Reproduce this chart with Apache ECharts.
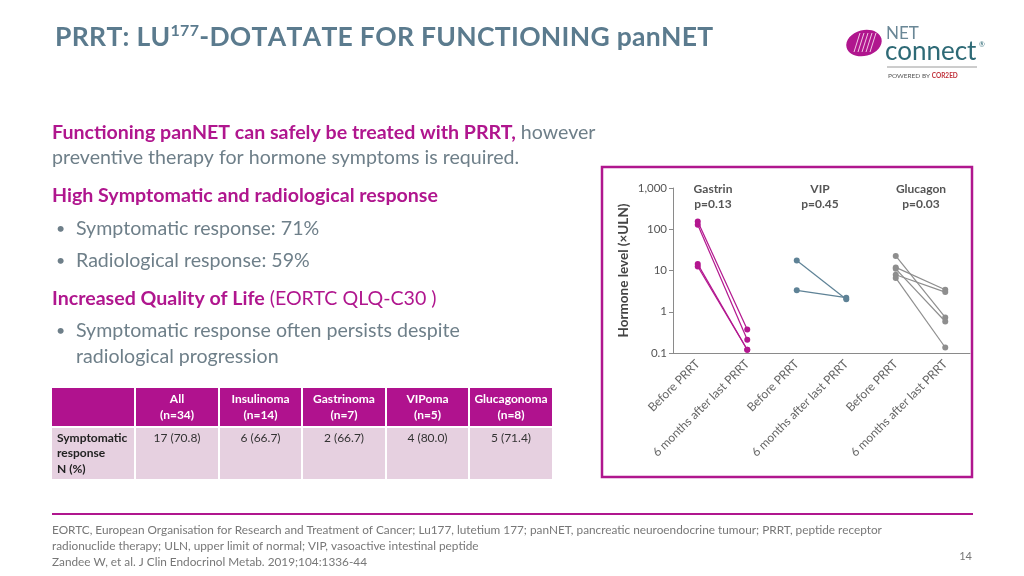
<!DOCTYPE html>
<html><head><meta charset="utf-8">
<script src="https://cdn.jsdelivr.net/npm/echarts@6/dist/echarts.min.js"></script>
<style>html,body{margin:0;padding:0;background:#fff}#c{width:1024px;height:576px}</style>
</head><body><div id="c"></div>
<script>
// ---- data ----
const categories = ['Before PRRT','6 months after last PRRT','Before PRRT','6 months after last PRRT','Before PRRT','6 months after last PRRT'];
const groupNames = ['Gastrin','VIP','Glucagon'];
const pValues = ['p=0.13','p=0.45','p=0.03'];
const gastrinBefore = [155, 128, 14.3, 12.5];
const gastrinAfter  = [0.37, 0.21, 0.12, 0.12];
const vipBefore = [17.5, 3.3];
const vipAfter  = [2.0, 2.2];
const glucagonBefore = [22.5, 11.9, 11.0, 7.9, 6.6];
const glucagonAfter  = [0.73, 3.4, 0.58, 3.0, 0.136];
const yTicks = [0.1, 1, 10, 100, 1000];
const tableHeader = ['', 'All\n(n=34)', 'Insulinoma\n(n=14)', 'Gastrinoma\n(n=7)', 'VIPoma\n(n=5)', 'Glucagonoma\n(n=8)'];
const tableRow = ['Symptomatic\nresponse\nN (%)', '17 (70.8)', '6 (66.7)', '2 (66.7)', '4 (80.0)', '5 (71.4)'];

// ---- styles ----
const MAG = '#b0168e', GREY = '#6e7f89', TITLE = '#5b7b8e';
const groupColors = ['#b3178f', '#5e8296', '#8e8e8e'];
const FONT = 'Lato';

const groups = [[gastrinBefore, gastrinAfter], [vipBefore, vipAfter], [glucagonBefore, glucagonAfter]];
const series = [];
groups.forEach((g, gi) => {
  g[0].forEach((b, i) => {
    const d = categories.map(() => '-');
    d[gi * 2] = b; d[gi * 2 + 1] = g[1][i];
    series.push({
      type: 'line', data: d, symbol: 'circle', symbolSize: 6, silent: true,
      lineStyle: { color: groupColors[gi], width: 1.2 },
      itemStyle: { color: groupColors[gi] }
    });
  });
});

const graphics = [];
function txt(x, y, text, font, fill, align, extra) {
  graphics.push({ type: 'text', x: x, y: y, silent: true,
    style: Object.assign({ text: text, font: font, fill: fill, align: align || 'left', verticalAlign: 'middle' }, extra || {}) });
}
// title with letter spacing (characters placed one by one)
const ctx = document.createElement('canvas').getContext('2d');
const titleParts = [
  { t: 'PRRT: LU', font: 'bold 26.5px ' + FONT, y: 37, va: 'middle' },
  { t: '177', font: 'bold 16px ' + FONT, y: 23, va: 'top' },
  { t: '-DOTATATE FOR FUNCTIONING panNET', font: 'bold 26.5px ' + FONT, y: 37, va: 'middle' }
];
let tx = 55;
const SP = 0.3;
titleParts.forEach(p => {
  ctx.font = p.font;
  for (const ch of p.t) {
    graphics.push({ type: 'text', x: tx, y: p.y, silent: true, style: { text: ch, font: p.font, fill: TITLE, verticalAlign: p.va } });
    tx += ctx.measureText(ch).width + SP;
  }
});
// logo
graphics.push({ type: 'ellipse', shape: { cx: 864, cy: 43, rx: 18, ry: 13 }, rotation: 0.25, originX: 864, originY: 43, style: { fill: '#b0168e' } });
for (let i = 0; i < 5; i++) {
  graphics.push({ type: 'line', shape: { x1: 854 + i * 4, y1: 52, x2: 860 + i * 4, y2: 33 }, style: { stroke: '#f0c8e4', lineWidth: 1 } });
}
txt(886, 34, 'NET', '17px ' + FONT, '#6a8796');
txt(885, 52, 'connect', '26px ' + FONT, '#2e6a76');
txt(979, 45, '®', '7px ' + FONT, '#2e6a76');
graphics.push({ type: 'line', shape: { x1: 887, y1: 67, x2: 977, y2: 67 }, style: { stroke: '#9a9a9a', lineWidth: 1 } });
graphics.push({ type: 'text', x: 888, y: 76, style: { text: '{a|POWERED BY }{b|COR2ED}', verticalAlign: 'middle',
  rich: { a: { font: '6.5px ' + FONT, fill: '#555' }, b: { font: 'bold 6.5px ' + FONT, fill: '#c0303a' } } } });

// left text
const BODY = 19.6;
function rich(x, y, text, parts) {
  graphics.push({ type: 'text', x: x, y: y, style: { text: text, verticalAlign: 'middle', rich: parts } });
}
const bm = { font: 'bold ' + BODY + 'px ' + FONT, fill: MAG };
const rg = { font: BODY + 'px ' + FONT, fill: GREY };
const rm = { font: BODY + 'px ' + FONT, fill: MAG };
rich(52, 133, '{b|Functioning panNET can safely be treated with PRRT,}{r| however}', { b: bm, r: rg });
txt(52, 158, 'preventive therapy for hormone symptoms is required.', BODY + 'px ' + FONT, GREY);
txt(52, 196, 'High Symptomatic and radiological response', 'bold ' + BODY + 'px ' + FONT, MAG);
txt(56, 229, '•', '16px ' + FONT, GREY);
txt(76, 229, 'Symptomatic response: 71%', BODY + 'px ' + FONT, GREY);
txt(56, 261, '•', '16px ' + FONT, GREY);
txt(76, 261, 'Radiological response: 59%', BODY + 'px ' + FONT, GREY);
rich(52, 299, '{b|Increased Quality of Life}{m| (EORTC QLQ-C30 )}', { b: bm, m: rm });
txt(56, 331, '•', '16px ' + FONT, GREY);
txt(76, 331, 'Symptomatic response often persists despite', BODY + 'px ' + FONT, GREY);
txt(76, 357, 'radiological progression', BODY + 'px ' + FONT, GREY);

// table
const colX = [52, 135, 219, 302, 386, 469, 553];
tableHeader.forEach((h, i) => {
  const x0 = colX[i] + (i ? 1 : 0), x1 = colX[i + 1] - 1;
  graphics.push({ type: 'rect', shape: { x: x0, y: 388, width: x1 - x0, height: 38 }, style: { fill: '#b0128e' } });
  graphics.push({ type: 'rect', shape: { x: x0, y: 428, width: x1 - x0, height: 51 }, style: { fill: '#e6d0e0' } });
  if (h) graphics.push({ type: 'text', x: (x0 + x1) / 2, y: 407, style: { text: h, font: 'bold 12px ' + FONT, fill: '#fff', align: 'center', verticalAlign: 'middle', lineHeight: 16 } });
  const r = tableRow[i];
  if (i === 0) graphics.push({ type: 'text', x: 57, y: 430, style: { text: r, font: 'bold 12px ' + FONT, fill: '#222', align: 'left', verticalAlign: 'top', lineHeight: 15.5 } });
  else graphics.push({ type: 'text', x: (x0 + x1) / 2, y: 438, style: { text: r, font: '12px ' + FONT, fill: '#333', align: 'center', verticalAlign: 'middle' } });
});

// chart frame and group labels
graphics.push({ type: 'rect', shape: { x: 602, y: 167, width: 370, height: 310 }, style: { fill: 'none', stroke: MAG, lineWidth: 2.5 } });
const labelX = [713, 820, 921];
groupNames.forEach((n, i) => {
  graphics.push({ type: 'text', x: labelX[i], y: 197, style: { text: n + '\n' + pValues[i], font: 'bold 12px ' + FONT, fill: '#555', align: 'center', verticalAlign: 'middle', lineHeight: 15 } });
});

// footer
graphics.push({ type: 'line', shape: { x1: 52, y1: 514, x2: 973, y2: 514 }, style: { stroke: MAG, lineWidth: 2 } });
const FN = '11.8px ' + FONT;
txt(52, 530, 'EORTC, European Organisation for Research and Treatment of Cancer; Lu177, lutetium 177; panNET, pancreatic neuroendocrine tumour; PRRT, peptide receptor', FN, '#777');
txt(52, 546, 'radionuclide therapy; ULN, upper limit of normal; VIP, vasoactive intestinal peptide', FN, '#777');
txt(52, 562, 'Zandee W, et al. J Clin Endocrinol Metab. 2019;104:1336-44', FN, '#777');
txt(972, 556, '14', '11px ' + FONT, '#777', 'right');

const chart = echarts.init(document.getElementById('c'));
chart.setOption({
  animation: false,
  textStyle: { fontFamily: FONT },
  grid: { left: 673, right: 54, top: 188, bottom: 223 },
  xAxis: {
    type: 'category', data: categories, boundaryGap: true,
    axisLine: { lineStyle: { color: '#8a8a8a' } },
    axisTick: { alignWithLabel: true, length: 4, lineStyle: { color: '#8a8a8a' } },
    axisLabel: { rotate: 45, fontSize: 12, color: '#666', margin: 9, interval: 0 }
  },
  yAxis: {
    type: 'log', logBase: 10, min: yTicks[0], max: yTicks[yTicks.length - 1],
    name: 'Hormone level (×ULN)', nameLocation: 'middle', nameGap: 42,
    nameTextStyle: { fontSize: 13.5, fontWeight: 'bold', color: '#444' },
    axisLine: { show: true, lineStyle: { color: '#8a8a8a' } },
    axisTick: { show: true, length: 4, lineStyle: { color: '#8a8a8a' } },
    splitLine: { show: false },
    axisLabel: { fontSize: 11.5, color: '#555', margin: 6,
      formatter: v => v >= 1000 ? v.toLocaleString('en-US') : String(v) }
  },
  series: series,
  graphic: graphics
});
</script></body></html>
